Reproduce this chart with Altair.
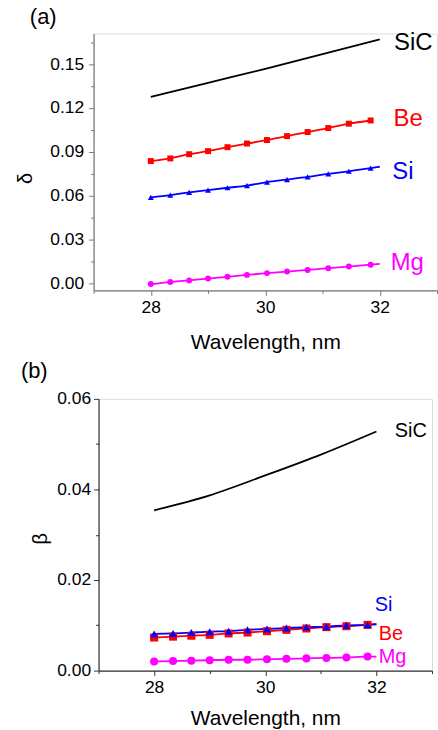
import altair as alt
import pandas as pd

FONT = "Liberation Sans"

# ---------------- data ----------------
wl_marks = [28.0, 28.34, 28.67, 29.0, 29.34, 29.68, 30.03, 30.38, 30.74, 31.1, 31.46, 31.84]

# panel (a): delta
a_be = [0.0836, 0.0854, 0.0883, 0.0904, 0.0931, 0.0956, 0.0980, 0.1007, 0.1035, 0.1062, 0.1092, 0.1114]
a_si = [0.0587, 0.0603, 0.0621, 0.0637, 0.0653, 0.0668, 0.0692, 0.0709, 0.0727, 0.0748, 0.0766, 0.0788]
a_mg = [-0.0007, 0.0007, 0.0018, 0.0031, 0.0043, 0.0056, 0.0068, 0.0079, 0.0090, 0.0102, 0.0113, 0.0126]
a_end = {"Si": 0.0797, "Mg": 0.0131}
sic_wl = [28.0, 29.0, 30.0, 31.0, 32.0]
a_sic = [0.1275, 0.1372, 0.1468, 0.1568, 0.1670]

# panel (b): beta
b_be = [0.0073, 0.0075, 0.0077, 0.0079, 0.0082, 0.0084, 0.0087, 0.0090, 0.0093, 0.0096, 0.0098, 0.0101]
b_si = [0.0081, 0.0082, 0.0084, 0.0086, 0.0087, 0.0090, 0.0092, 0.0094, 0.0096, 0.0097, 0.0100, 0.0101]
b_mg = [0.0020, 0.0021, 0.0022, 0.0023, 0.0024, 0.0024, 0.0025, 0.0026, 0.0027, 0.0028, 0.0029, 0.0031]
b_end = {"Be": 0.0103, "Si": 0.0102, "Mg": 0.0031}
b_sic = [0.0354, 0.0387, 0.0431, 0.0477, 0.0528]

# series labels: (name, wavelength, value)
a_labels = [("SiC", 32.25, 0.1643), ("Be", 32.24, 0.1127), ("Si", 32.22, 0.0763), ("Mg", 32.19, 0.0138)]
b_labels = [("SiC", 32.33, 0.0530), ("Si", 31.97, 0.0145), ("Be", 32.04, 0.0081), ("Mg", 32.04, 0.0029)]

series = ["SiC", "Be", "Si", "Mg"]
colors = ["#000000", "#ff0000", "#0000ff", "#ff00ff"]
shapes = ["circle", "square", "triangle-up", "circle"]


def build_frames(be, si, mg, sic, ends, labels):
    lines, pts = [], []
    for name, vals in (("Be", be), ("Si", si), ("Mg", mg)):
        for w, v in zip(wl_marks, vals):
            lines.append({"wl": w, "v": v, "s": name})
            pts.append({"wl": w, "v": v, "s": name})
        if name in ends:
            lines.append({"wl": 32.0, "v": ends[name], "s": name})
    for w, v in zip(sic_wl, sic):
        lines.append({"wl": w, "v": v, "s": "SiC"})
    lab = pd.DataFrame([{"s": n, "wl": w, "v": v} for n, w, v in labels])
    return pd.DataFrame(lines), pd.DataFrame(pts), lab


def panel(be, si, mg, sic, ends, labels, ytitle, ydom, ymajor, yminor,
          w, h, tag, axcol, msize, lsize, title_x, title_y, ylabpad, tag_dx, tag_off, xtitlepad):
    dl, dp, dlab = build_frames(be, si, mg, sic, ends, labels)
    xs = alt.Scale(domain=[27, 33], nice=False, zero=False)
    ys = alt.Scale(domain=ydom, nice=False, zero=False)
    col = alt.Color("s:N", scale=alt.Scale(domain=series, range=colors), legend=None)

    xax = alt.Axis(values=[28, 30, 32], title="Wavelength, nm", orient="bottom", tickSize=5,
                   labelPadding=3, labelFontSize=17.5, titleFontSize=21, titleFontWeight="normal",
                   titlePadding=xtitlepad, domainColor=axcol, tickColor=axcol, labelColor="#000",
                   titleColor="#000", labelFont=FONT, titleFont=FONT, grid=False, domainWidth=1.2)
    yax = alt.Axis(values=ymajor, format=".2f", title=ytitle, orient="left", tickSize=5,
                   labelPadding=ylabpad, labelFontSize=17.5, titleFontSize=20,
                   titleFontWeight="normal", titleX=title_x, titleY=title_y, domainColor=axcol,
                   tickColor=axcol, labelColor="#000", titleColor="#000", labelFont=FONT,
                   titleFont=FONT, grid=False, domainWidth=1.2)
    xmin = alt.Axis(values=[27, 29, 31, 33], orient="bottom", labels=False, title=None,
                    domain=False, tickSize=3, tickColor=axcol, grid=False)
    ymin = alt.Axis(values=yminor, orient="left", labels=False, title=None, domain=False,
                    tickSize=3, tickColor=axcol, grid=False)

    line = alt.Chart(dl).mark_line(strokeWidth=1.8, interpolate="monotone").encode(
        x=alt.X("wl:Q", scale=xs, axis=xax),
        y=alt.Y("v:Q", scale=ys, axis=yax),
        color=col, detail="s:N")
    pts = alt.Chart(dp).mark_point(filled=True, opacity=1, size=msize).encode(
        x=alt.X("wl:Q", scale=xs, axis=None),
        y=alt.Y("v:Q", scale=ys, axis=None),
        color=col,
        shape=alt.Shape("s:N", scale=alt.Scale(domain=series, range=shapes), legend=None))
    txt = alt.Chart(dlab).mark_text(align="left", baseline="middle", font=FONT, fontSize=lsize).encode(
        x=alt.X("wl:Q", scale=xs, axis=None),
        y=alt.Y("v:Q", scale=ys, axis=None),
        text="s:N", color=col)
    minor = alt.Chart(dl).mark_point(opacity=0).encode(
        x=alt.X("wl:Q", scale=xs, axis=xmin),
        y=alt.Y("v:Q", scale=ys, axis=ymin))
    return alt.layer(line, pts, txt, minor).resolve_axis(x="independent", y="independent").properties(
        width=w, height=h,
        title=alt.TitleParams(tag, anchor="start", frame="group", dx=tag_dx, offset=tag_off,
                              fontSize=22, font=FONT, fontWeight="normal", color="#000"))


pa = panel(a_be, a_si, a_mg, a_sic, a_end, a_labels, "δ", [-0.005, 0.171],
           [0.0, 0.03, 0.06, 0.09, 0.12, 0.15], [0.015, 0.045, 0.075, 0.105, 0.135, 0.165],
           345, 258, "(a)", "#777777", 36, 24, -58, 145, 5, -64, 2, 16)
pb = panel(b_be, b_si, b_mg, b_sic, b_end, b_labels, "β", [0.0, 0.06],
           [0.0, 0.02, 0.04, 0.06], [0.01, 0.03, 0.05],
           335, 273, "(b)", "#333333", 65, 20, -48, 140, 3, -78, 7, 12)

chart = alt.vconcat(pa, pb, spacing=109, bounds="flush", center=True).properties(
    padding={"left": 15, "top": 4, "right": 0, "bottom": 0}
).configure_view(stroke=None).configure(background="white")

chart.save("out.html", embed_options={"renderer": "svg", "actions": False})
